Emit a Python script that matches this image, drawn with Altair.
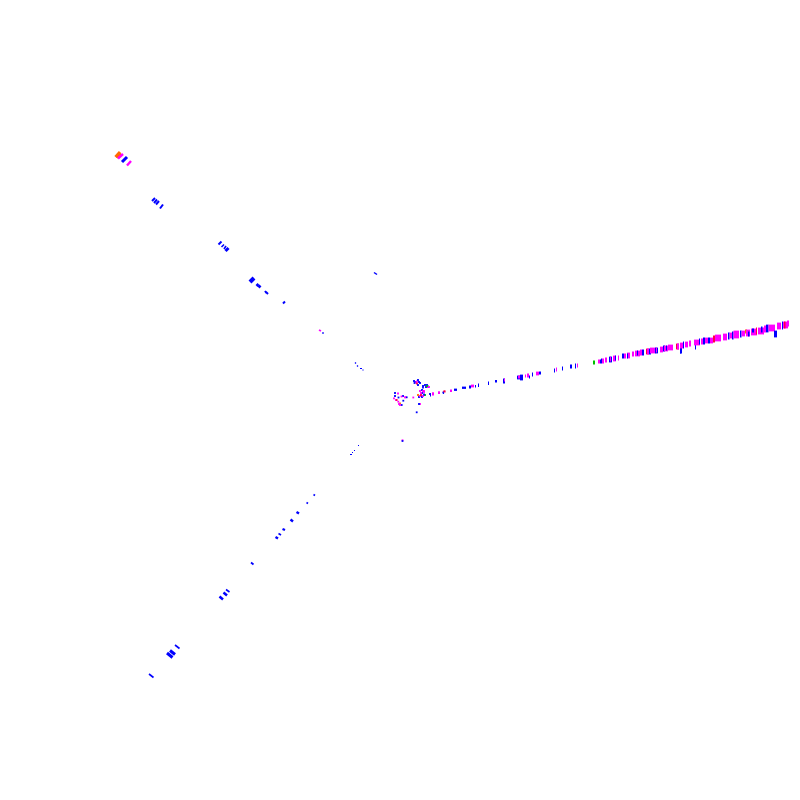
import altair as alt
import pandas as pd

B, M, O, R, G = "#0000ff", "#ff00ff", "#ff6a00", "#ff0040", "#00c000"

# east arm: x start, x end, y top, y bottom, colour
east_near = [
 (430,431,393.6,396.4,B),(432,434,392.6,395.4,M),(438,440,391.6,393.9,M),(443,444,391.6,393.9,B),(444.5,445.5,390.6,392.4,R),
 (450,452,389.6,391.9,M),(454,457,388.6,390.9,B),(462,466,386.6,388.9,B),(469,471,385.6,388.4,B),(471,474,384.6,387.4,M),
 (475,476,385.1,387.4,B),(478,479,383.6,386.9,B),(488,489,381.6,384.9,B),(495,497,380.1,382.4,B),(503,505,378.6,383.4,B),
 (504,505,378.6,381.4,M),(517,520,375.6,379.4,B),(518,520,375.6,378.4,M),(520,523,374.6,380.4,B),(525,526,374.6,377.4,M),
 (527,529,373.6,377.4,M),(529,530,375.6,378.4,B),(532,533,372.6,376.4,B),(536,539,371.6,375.4,M),(539,541,371.6,374.4,B),
 (554,555,368.6,372.4,B),(556,557,367.6,371.4,M),(562,563,366.6,370.4,B),(570,572,364.6,368.4,B),(575,576,363.6,368.4,B),(577,578,363.6,367.4,M),
]
east_mid = [
 (593,595,360.6,364.4,G),(598,600,359.6,363.4,M),(600,601,359.6,363.4,B),(601,602,358.6,363.4,B),(602,604,358.6,363.4,M),(605,607,357.6,362.4,M),
 (609,612,356.6,362.4,B),(610,611,356.6,361.4,M),(613,616,355.6,361.4,M),(615,616,355.6,360.4,B),(618,619,355.6,360.4,M),(622,624,353.6,358.4,B),
 (624,626,353.6,358.4,M),(627,630,352.6,358.4,M),(627,628,353.6,358.4,B),(632,634,351.6,356.4,M),(635,640,350.6,356.4,M),(637,638,350.6,355.4,B),
 (640,642,349.6,355.4,M),(642,644,349.6,355.4,B),(646,649,348.6,354.4,R),(647,649,348.6,354.4,M),(649,651,348.6,354.4,B),(650,656,347.6,353.4,M),
 (655,658,347.6,353.4,B),(656,657,347.6,352.4,M),(660,663,346.6,352.4,M),(663,665,345.6,351.4,B),(664,668,345.6,351.4,M),(666,667,345.6,350.4,B),
 (668,673,344.6,350.4,M),(676,679,343.6,349.4,R),(677,679,343.6,349.4,M),(680,682,346.6,353.4,B),
]
east_far = [
 (680,681,346.6,353.4,B),(680,683,342.6,348.4,M),(683,684,341.6,348.4,B),(685,688,341.6,347.4,M),(689,691,340.6,346.4,M),(695,696,344.6,349.4,B),
 (694,700,339.6,345.4,M),(699,700,338.6,344.4,B),(701,703,338.6,344.4,M),(703,705,337.6,344.4,B),(705,708,337.6,343.4,M),(708,710,337.6,343.4,B),
 (710,713,337.6,343.4,M),(713,715,335.6,342.4,R),(715,721,334.6,341.4,M),(723,727,333.6,340.4,M),(728,729.5,332.6,339.4,B),(729.5,733,332.6,338.4,M),
 (732,733.5,331.6,339.4,B),(733.5,739,330.6,338.4,M),(740,741.5,330.6,337.4,B),(741.5,745,330.6,336.4,M),(745,747,329.6,333.4,O),(746,750,329.6,336.4,M),
 (748,749.5,331.6,336.4,B),(751,757,328.6,335.4,M),(752,754,328.6,332.4,B),(756,757,327.6,334.4,R),(758,764,327.6,334.4,M),(761,762.5,326.6,332.4,B),
 (764,766,325.6,332.4,M),(766,768.5,324.6,332.4,B),(768.5,772,324.6,331.4,M),(772,775,324.6,331.4,M),(774,777,330.6,337.4,B),(777,781,322.6,329.4,M),
 (782,783,321.6,329.4,B),(783,788,321.6,328.4,M),(784,785.5,321.6,328.4,R),(787,789,320.6,326.4,M),
]

# northwest and southwest arms: x1, y1, x2, y2, line width, colour
northwest = [
 (115.5,157,120,152,3,O),(117,158,121,153.5,2.4,O),(118,158.5,123,154,2.4,M),(122,162,127,157,3,B),(127,165.5,131,161,2.4,M),
 (152,201,155,198,2,B),(154,203,157,199.5,2,B),(156,204.5,159,201,2,B),(160,208.5,163,204.5,2,B),
 (218.5,244.5,221.5,241.5,2,B),(221.5,247,224,244.5,1.6,B),(224,249,226,246,1.6,B),(225.5,251,228.5,248,3,B),
 (250,282,254,278,4,B),(256.5,286,258.5,284,2.6,B),(258.5,287.5,260.5,285.5,2.6,B),(265,291,266.5,293,2,B),(266,292,268,294,2,B),
 (283,303.5,285,301.5,2,B),(319,330,321,331,1.8,M),(323,332,323,334,1.2,B),
 (355,362.5,356,363.5,1.2,B),(357,365.5,358,366.5,1.2,B),(360,368.5,362,368.5,1.2,B),(363,369.5,363,370.5,1.2,B),
 (374,272.5,377,274.5,1.5,B),
]
southwest = [
 (226,589.5,229.5,592,1.6,B),(223.5,592.5,227,595.5,2.5,B),(219.5,596.5,223,599.5,2.5,B),
 (175,645,179.5,648.5,1.6,B),(170,650.5,175,654.5,3,B),(167,653,172.5,657.5,3,B),(149,674,153.5,677.5,1.6,B),
 (313.5,494.5,315,495.5,1.6,B),(306.5,502.5,308,503.5,1.6,B),(296.5,512,299,513.5,2.4,B),(290.5,519.5,293,521.5,2.4,B),
 (282.5,529,285,530,2.4,B),(278.5,533.5,281,535,1.6,B),(275.5,537,278,538.5,2.4,B),(251,562.5,253.5,564.5,1.8,B),
 (358,445.5,359,445.5,1.2,B),(354,450.5,355,450.5,1.2,B),(352,452.5,353,452.5,1.2,B),(350,454.5,352,454.5,1.2,B),
]
# central knot: x, y, colour
knot = [
 (414,381,B),(415.5,382,B),(416,382.5,M),(417,381.5,M),(418,380,B),(419,382,B),(420,383,B),(414.5,383,B),(417,383.5,R),(418,385,B),
 (423,386,B),(425,385,B),(427,385,B),(426,387,B),(428,386.5,B),(423,387.5,B),(428,387,M),(427,386,G),(429,387,M),
 (420,391,M),(422,390,B),(422,393,B),(423,391,M),(424,392,M),(421,393,M),(418,395,O),(419,397,B),(422,397,B),(423,396,M),
 (425,395,G),(424,394.5,B),(420,396,M),(424,391,M),(421,395,R),
 (430,394,B),(433,393.5,M),(439,392.5,M),(443.3,392.5,B),(444.3,391.3,R),(403,396,B),(402.5,440.3,M),(402.5,441,B),
 (395,393,B),(398,393.5,M),(395,396,B),(398.5,397.5,B),(401.5,396.5,M),(405.5,397.3,M),(406.7,397.3,B),(394,398.3,M),
 (396,400,M),(396.7,400,R),(398.3,401.7,M),(400,403.3,O),(401.7,405,B),(400,405,M),(403.3,400.7,B),(399,404,M),
 (413.3,397.5,M),(405,397.3,M),(420,404,M),(419,404,B),(416.7,412.3,B),
]

east = pd.DataFrame(east_near + east_mid + east_far, columns=["x", "x2", "y", "y2", "c"])
diag = pd.DataFrame(northwest + southwest, columns=["x", "y", "x2", "y2", "w", "c"])
dots = pd.DataFrame(
    [(x - .9, y - .9, x + .9, y + .9, c) for x, y, c in knot], columns=["x", "y", "x2", "y2", "c"]
)

X = alt.Scale(domain=[8, 792])
Y = alt.Scale(domain=[792, 8])
nx = alt.X("x:Q", scale=X, axis=None)
ny = alt.Y("y:Q", scale=Y, axis=None)

def rects(frame):
    return alt.Chart(frame).mark_rect(strokeWidth=0).encode(
        x=nx, x2="x2:Q", y=ny, y2="y2:Q", color=alt.Color("c:N", scale=None)
    )

lines = alt.Chart(diag).mark_rule(strokeCap="butt").encode(
    x=nx, x2="x2:Q", y=ny, y2="y2:Q",
    color=alt.Color("c:N", scale=None),
    strokeWidth=alt.StrokeWidth("w:Q", scale=None),
)

chart = (rects(east) + lines + rects(dots)).properties(
    width=784, height=784, padding=0, autosize="none", background="white"
).configure_view(stroke=None)

chart.save("out.html", embed_options={"renderer": "svg", "actions": False})
